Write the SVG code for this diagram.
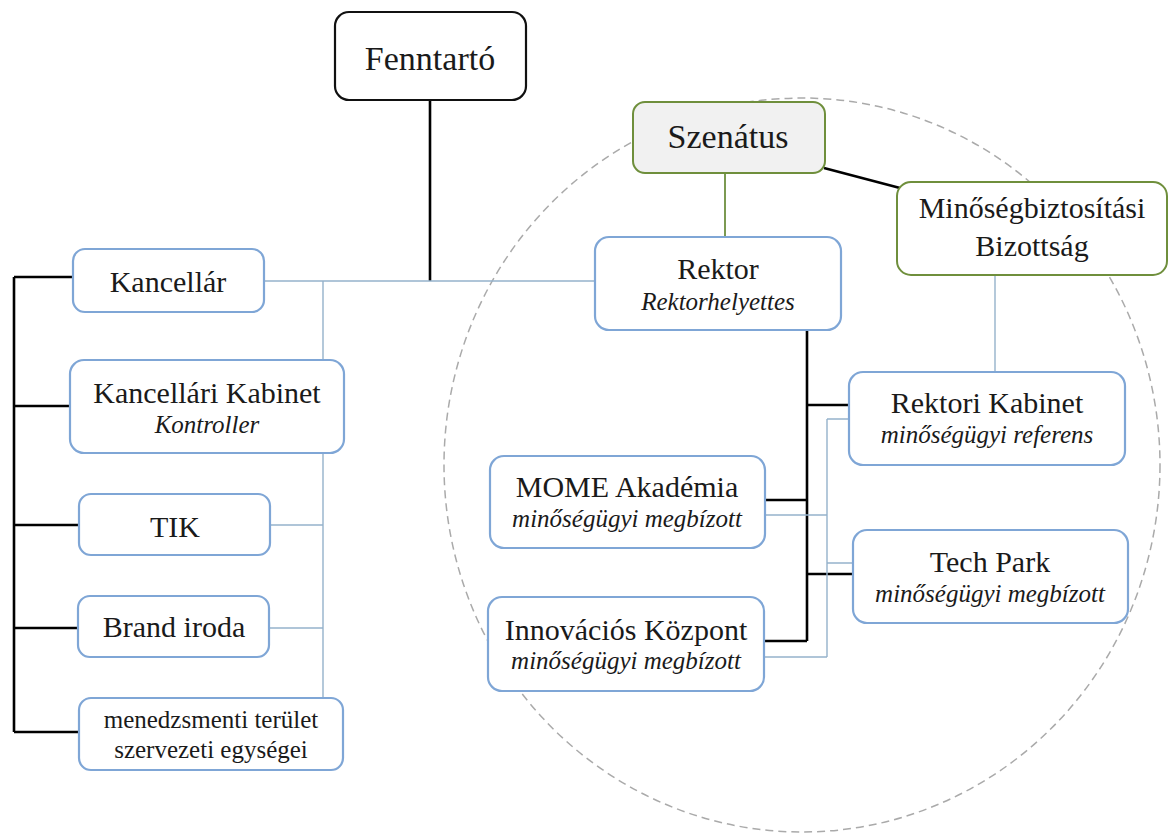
<svg xmlns="http://www.w3.org/2000/svg" width="1170" height="836" viewBox="0 0 1170 836">
<style>
text{fill:#1a1a1a;text-anchor:middle}
.r{font-size:30px}
.i{font-size:25px;font-style:italic}
.big{font-size:34px}
.sm{font-size:25px}
.blue{fill:#fff;stroke:#7fa6d6;stroke-width:2.2}
.green{fill:#fff;stroke:#6f8f3c;stroke-width:2}
.blk{fill:none;stroke:#000;stroke-width:2.6}
.lt{fill:none;stroke:#95b2cb;stroke-width:1.4}
.grn{fill:none;stroke:#7c9a52;stroke-width:2}
</style>
<rect width="1170" height="836" fill="#fff"/>
<ellipse id="circle" cx="802" cy="465" rx="358" ry="367" fill="none" stroke="#aaaaaa" stroke-width="1.5" stroke-dasharray="8 5"/>
<g id="connectors">
<path class="blk" d="M430 100V281"/>
<path class="lt" d="M264 281H595M323 281V698M270 525H323M269 628H323"/>
<path class="blk" d="M14 277V732M14 277H73M14 406H70M14 525H79M14 628H78M14 732H79"/>
<path class="grn" d="M725 173V237"/>
<path class="blk" d="M824 168L900 188"/>
<path class="lt" d="M995 275V372"/>
<path class="blk" d="M807 330V641M807 405H849M765 500H807M807 574H853M764 641H807"/>
<path class="lt" d="M827 419V657M827 419H849M765 515H827M827 563H853M764 657H827"/>
</g>
<g font-family="Liberation Serif, Tinos, DejaVu Serif, serif">
<g id="fenntarto"><rect x="335" y="12" width="191" height="88" rx="14" fill="#fff" stroke="#111" stroke-width="2.2"/><text class="big" x="430" y="70">Fenntartó</text></g>
<g id="kancellar"><rect class="blue" x="73" y="249" width="191" height="63" rx="12"/><text class="r" x="168" y="292">Kancellár</text></g>
<g id="kabinet"><rect class="blue" x="70" y="360" width="274" height="93" rx="14"/><text class="r" x="207" y="403">Kancellári Kabinet</text><text class="i" x="207" y="433">Kontroller</text></g>
<g id="tik"><rect class="blue" x="79" y="494" width="191" height="61" rx="12"/><text class="r" x="175" y="537">TIK</text></g>
<g id="brand"><rect class="blue" x="78" y="596" width="191" height="61" rx="12"/><text class="r" x="174" y="637">Brand iroda</text></g>
<g id="menedzsment"><rect class="blue" x="79" y="698" width="264" height="72" rx="12"/><text class="sm" x="211" y="728">menedzsmenti terület</text><text class="sm" x="211" y="758">szervezeti egységei</text></g>
<g id="szenatus"><rect x="633" y="102" width="192" height="71" rx="12" fill="#f1f1f1" stroke="#6f8f3c" stroke-width="2"/><text class="big" x="728" y="148">Szenátus</text></g>
<g id="minoseg"><rect class="green" x="897" y="182" width="270" height="93" rx="14"/><text class="r" x="1032" y="218">Minőségbiztosítási</text><text class="r" x="1032" y="256">Bizottság</text></g>
<g id="rektor"><rect class="blue" x="595" y="237" width="246" height="93" rx="14"/><text class="r" x="718" y="279">Rektor</text><text class="i" x="718" y="310">Rektorhelyettes</text></g>
<g id="rektorikabinet"><rect class="blue" x="849" y="372" width="276" height="93" rx="14"/><text class="r" x="987" y="413">Rektori Kabinet</text><text class="i" x="987" y="443">minőségügyi referens</text></g>
<g id="mome"><rect class="blue" x="490" y="456" width="275" height="92" rx="14"/><text class="r" x="627" y="497">MOME Akadémia</text><text class="i" x="627" y="527">minőségügyi megbízott</text></g>
<g id="techpark"><rect class="blue" x="853" y="530" width="275" height="93" rx="14"/><text class="r" x="990" y="572">Tech Park</text><text class="i" x="990" y="602">minőségügyi megbízott</text></g>
<g id="innovacio"><rect class="blue" x="488" y="597" width="276" height="94" rx="14"/><text class="r" x="626" y="640">Innovációs Központ</text><text class="i" x="626" y="669">minőségügyi megbízott</text></g>
</g>
</svg>
